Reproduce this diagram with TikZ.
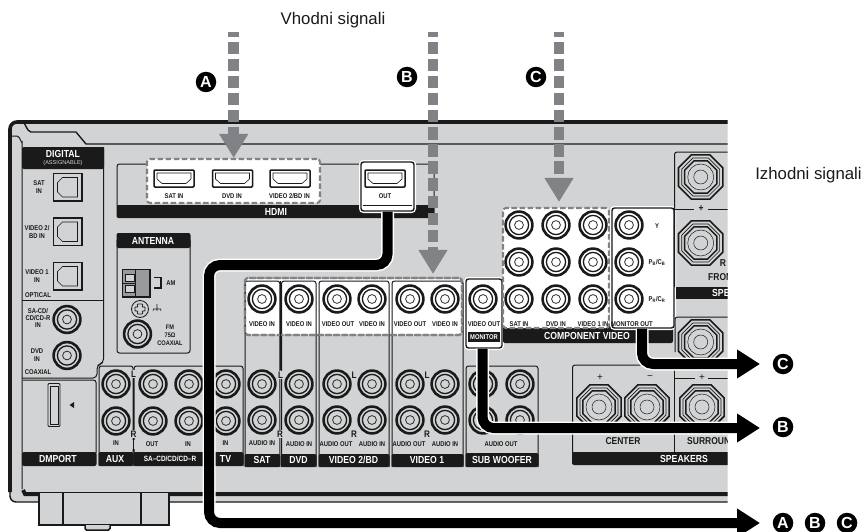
\documentclass[tikz,border=0pt]{standalone}
\usepackage{fontspec}
\setmainfont{Liberation Sans}
\newfontfamily\condf[FakeStretch=0.85]{Liberation Sans}
\newcommand{\cond}{\condf\bfseries}
\usetikzlibrary{arrows.meta}
\definecolor{body}{HTML}{D1D3D4}
\definecolor{sig}{HTML}{808285}
\definecolor{ink}{HTML}{1A1A1A}
\newcounter{lbl}
\tikzset{
  lab/.style={inner sep=0pt,align=center,text=ink,font=\cond\fontsize{6.9}{7.4}\selectfont},
  hdr/.style={inner sep=0pt,text=white,font=\cond\fontsize{10.2}{10.5}\selectfont},
  hdrs/.style={inner sep=0pt,text=white,font=\cond\fontsize{7.6}{8}\selectfont},
  big/.style={inner sep=0pt,text=ink,font=\cond\fontsize{10}{10}\selectfont},
  lr/.style={inner sep=.6pt,fill=body,text=ink,font=\cond\fontsize{9.5}{9.5}\selectfont},
  captxt/.style={inner sep=0pt,text=ink,font=\fontsize{16.8}{18}\selectfont},
  badge/.style={circle,fill=black,text=white,minimum size=20.5pt,inner sep=0pt,font=\bfseries\fontsize{16}{16}\selectfont},
  panelline/.style={draw=ink,line width=1pt,rounded corners=2.5pt},
  insel/.style={draw=sig,fill=white,line width=2.1pt,dash pattern=on 5.5pt off 2.6pt,rounded corners=3pt,inner sep=0pt},
  whitebox/.style={draw=ink,fill=white,line width=1.4pt,rounded corners=2.5pt,inner sep=0pt,preaction={draw=white,line width=4pt}},
  signal/.style={draw=sig,line width=10.5pt,dash pattern=on 12.5pt off 4.6pt,dash phase=7.5pt,
     -{Triangle[length=24pt,width=27.5pt,fill=sig]}},
  halo/.style={draw=white,line width=13pt,rounded corners=11pt},
  wire/.style={draw=black,line width=10pt,rounded corners=11pt,-{Triangle[length=23pt,width=27.5pt]}},
}
% text label with a generated node name
\newcommand{\tx}[3][lab]{\stepcounter{lbl}\node[#1] (t\arabic{lbl}) at (#2) {#3};}
% RCA jack
\newcommand{\rca}[2]{\draw[ink,line width=2.6pt] (#1,#2) circle (13.4pt);
  \draw[ink,line width=1.3pt] (#1,#2) circle (9.6pt);
  \draw[ink,line width=.7pt] (#1,#2) circle (4.4pt);}
% panel with header
\newcommand{\panel}[5]{\draw[panelline] (#1,#5) -- (#1,#3) -- (#2,#3) -- (#2,#5);
  \fill[ink,rounded corners=2pt] (#1-.5,#4) rectangle (#2+.5,#5);}
% HDMI socket
\newcommand{\hdmi}[2]{\begin{scope}[shift={(#1,#2)}]
  \draw[ink,line width=1.5pt,rounded corners=1pt] (0,0) rectangle (40,17);
  \draw[ink,line width=.6pt] (3,3)--(37,3)--(37,9)--(32,13.5)--(8,13.5)--(3,9)--cycle;
  \end{scope}}
% optical socket
\newcommand{\optical}[2]{\begin{scope}[shift={(#1,#2)}]
  \draw[ink,line width=1.9pt] (0,0) rectangle (28.5,27.5);
  \draw[ink,line width=.7pt] (4,9)--(9,4)--(24,4)--(24,23.5)--(9,23.5)--(4,18.5)--cycle;
  \end{scope}}
\newcommand{\octa}[1]{(22.5:#1)--(67.5:#1)--(112.5:#1)--(157.5:#1)--(202.5:#1)--(247.5:#1)--(292.5:#1)--(337.5:#1)--cycle}
% speaker terminal
\newcommand{\spk}[2]{\begin{scope}[shift={(#1,#2)}]
  \draw[ink,line width=1.6pt,fill=body] \octa{24};
  \draw[ink,line width=.7pt] \octa{20.5};
  \draw[ink,line width=1.5pt] \octa{17.5};
  \draw[ink,line width=.5pt] (0,0) circle (13pt);
  \draw[ink,line width=.5pt] (0,0) circle (7pt);
  \end{scope}}
\begin{document}
\begin{tikzpicture}[x=1pt,y=-1pt]
\useasboundingbox (0,0) rectangle (864,532);
\begin{scope}
\clip (0,0) rectangle (727.5,532);
% chassis
\fill[body,rounded corners=8pt] (9,121) -- (800,121) -- (800,502) -- (9,502) -- cycle;
\draw[ink,line width=3.6pt,rounded corners=7pt] (800,122) -- (10,122) -- (10,492);
\draw[ink,line width=1.4pt,rounded corners=6pt] (10,486) -- (10,502) -- (800,502);
\draw[ink,line width=1.4pt] (800,144) -- (86,144) -- (76,132) -- (31,132) to[out=180,in=90] (24,124);
\draw[ink,line width=1pt] (12,136) -- (17,136) to[out=0,in=-90] (22,142) -- (22,489);
\draw[ink,line width=4pt] (23,490) -- (25,494) -- (800,494);
% feet
\draw[ink,line width=2pt,fill=body] (39,493) -- (39,525) -- (169,525) -- (169,493);
\draw[ink,line width=2pt] (62.5,493) -- (62.5,525) (141,493) -- (141,525);
\draw[ink,line width=1.5pt,fill=body,rounded corners=1.5pt] (85,525) -- (85,530) -- (110,530) -- (110,525);
% digital panel
\draw[ink,line width=1pt,rounded corners=4pt] (22,378) -- (97,378) -- (97,365) -- (103.5,363) -- (103.5,147);
\fill[ink,rounded corners=2pt] (22,147) rectangle (104,169);
\draw[ink,line width=.8pt] (22,300.5) -- (103.5,300.5);
\tx[hdr]{63,154}{DIGITAL}
\tx[inner sep=0pt,text=body,font=\fontsize{5.6}{6}\selectfont]{63,163.5}{(ASSIGNABLE)}
\optical{53.5}{173.5}\optical{53.5}{218}\optical{53.5}{262.5}
\tx{39,187}{SAT\\IN}
\tx{37,232}{VIDEO 2/\\BD IN}
\tx{37,276}{VIDEO 1\\IN}
\tx{38,295}{OPTICAL}
\tx{38,318}{SA-CD/\\CD/CD-R\\IN}
\tx{37,355}{DVD\\IN}
\tx{38,372}{COAXIAL}
\rca{67}{319.5}\rca{67}{355.5}
% DMPORT
\draw[ink,line width=1pt,rounded corners=2.5pt] (23,380) -- (96,380) -- (96,453);
\fill[ink,rounded corners=2pt] (22,452) rectangle (96.5,466);
\tx[hdr]{58,459}{DMPORT}
\draw[ink,line width=.9pt,rounded corners=1pt] (48,383.5) rectangle (60,426.5);
\draw[ink,line width=.5pt] (50,386) rectangle (58,424);
\fill[ink] (69.5,405) -- (74,402) -- (74,408) -- cycle;
% AUX + SA-CD + TV
\panel{99}{133}{366}{452}{466}
\panel{134}{243}{366}{452}{466}
\fill[body] (130,440) rectangle (135,449);
\draw[ink,line width=1pt] (133.5,378) -- (133.5,452);
\tx[lr]{133.5,374}{L}
\tx[lr]{133.5,434}{R}
\rca{116}{384}\rca{116}{421}\rca{153}{384}\rca{153}{421}
\rca{189}{384}\rca{189}{421}\rca{226}{384}\rca{226}{421}
\tx{116,443}{IN}\tx{152,444}{OUT}\tx{188,444}{IN}\tx{225.5,443}{IN}
\tx[hdr]{115,459}{AUX}
\tx[hdrs]{170,459}{SA–CD/CD/CD–R}
\tx[hdr]{225.5,459}{TV}
% HDMI panel
\draw[panelline] (117,206) -- (117,164) -- (434,164) -- (434,206);
\fill[ink,rounded corners=2pt] (116.5,205) rectangle (434.5,218);
\node[insel,minimum width=173pt,minimum height=44pt] (hdmiIn) at (233.5,181) {};
\hdmi{154}{170}\hdmi{212.5}{170}\hdmi{270}{170}
\tx{174,196}{SAT IN}\tx{232,196}{DVD IN}\tx{289.5,196}{VIDEO 2/BD IN}
\tx[hdr]{276,212}{HDMI}
\node[whitebox,minimum width=53pt,minimum height=49pt] (hdmiOut) at (387.5,186.5) {};
\hdmi{365}{170}
\tx{385,196}{OUT}
\draw[ink,line width=1pt] (363,205.5) -- (412,205.5);
% antenna
\draw[panelline] (117,240) -- (117,353) -- (190,353) -- (190,240);
\fill[ink,rounded corners=2pt] (116.5,233) rectangle (190.5,248);
\tx[hdr]{153,240.5}{ANTENNA}
\draw[ink,line width=1.5pt,fill=sig!70!body] (122.5,269.5) rectangle (150,297);
\draw[ink,line width=1pt] (135.5,269.5) -- (135.5,297) (123,283) -- (135.5,283);
\draw[ink,line width=.7pt,fill=body] (125,274) rectangle (134,281) (125,285.5) rectangle (134,292.5);
\draw[ink,line width=1.1pt] (154,277.5) -- (161,277.5) -- (161,288) -- (154,288);
\tx{171,283}{AM}
\draw[ink,line width=.8pt] (140,309) circle (8.5pt);
\draw[ink,line width=.7pt,rounded corners=1pt] (137,304) -- (143,304) -- (142,307.5) -- (145,306.5) -- (145,311.5) -- (142,310.5) -- (143,314) -- (137,314) -- (138,310.5) -- (135,311.5) -- (135,306.5) -- (138,307.5) -- cycle;
\draw[ink,line width=.6pt] (157,304) -- (157,309) (153,309) -- (161,309) (153.5,309) -- (153,311) (157,309) -- (157,311) (160.5,309) -- (161,311);
\rca{137.5}{334}
\tx[lab,font=\cond\fontsize{6.6}{8.1}\selectfont]{170,335}{FM\\75Ω\\COAXIAL}
% input jacks group
\node[insel,minimum width=217pt,minimum height=57pt] (videoIn) at (353.5,306.5) {};
\panel{245}{279.8}{281}{454}{467}
\panel{281.5}{316}{281}{454}{467}
\panel{319}{389}{281}{454}{467}
\panel{392}{463}{281}{454}{467}
\draw[sig,line width=2.1pt,dash pattern=on 5.5pt off 2.6pt,rounded corners=3pt] (245,335) -- (245,278) -- (462,278) -- (462,335) -- cycle;
\draw[ink,line width=1.6pt] (280.6,281) -- (280.6,370);
\foreach \x in {262,299,337,372,410,445}{\rca{\x}{299}\rca{\x}{384}\rca{\x}{420}}
\tx{262,324}{VIDEO IN}\tx{299,324}{VIDEO IN}\tx{338,324}{VIDEO OUT}\tx{372,324}{VIDEO IN}
\tx{410,324}{VIDEO OUT}\tx{445,324}{VIDEO IN}
\tx{262,443.5}{AUDIO IN}\tx{299,444}{AUDIO IN}\tx{336,444}{AUDIO OUT}\tx{372,444}{AUDIO IN}
\tx{409,444}{AUDIO OUT}\tx{445,444}{AUDIO IN}
\tx[lr]{280.5,375}{L}\tx[lr]{280,434}{R}
\tx[lr]{354,375}{L}\tx[lr]{354,434}{R}
\tx[lr]{427,375}{L}\tx[lr]{427,434}{R}
\tx[hdr]{262,459.5}{SAT}\tx[hdr]{298.5,459.5}{DVD}\tx[hdr]{353.5,459.5}{VIDEO 2/BD}\tx[hdr]{427,459.5}{VIDEO 1}
% sub woofer
\panel{466}{538}{366}{453}{467}
\rca{483}{384}\rca{520}{384}\rca{483}{420}\rca{520}{420}
\tx{501,444}{AUDIO OUT}
\tx[hdr]{502,459.5}{SUB WOOFER}
% monitor
\node[whitebox,minimum width=36pt,minimum height=69pt] (monitor) at (484,313.5) {};
\rca{483}{299}
\tx{484,324}{VIDEO OUT}
\fill[ink] (468,332) rectangle (500,342);
\tx[lab,text=white]{484,337}{MONITOR}
% component video
\fill[ink,rounded corners=2pt] (503,326) rectangle (673,343);
\tx[hdr]{587,335.5}{COMPONENT VIDEO}
\node[insel,minimum width=106pt,minimum height=120pt] (compIn) at (556,268) {};
\node[whitebox,minimum width=62pt,minimum height=120pt] (monOut) at (643,268) {};
\foreach \x in {519,556,593,629}{\rca{\x}{225}\rca{\x}{262}\rca{\x}{299}}
\tx{519,324}{SAT IN}\tx{556,324}{DVD IN}\tx{593,324}{VIDEO 1 IN}\tx{632,324}{MONITOR OUT}
\tx{657,226}{Y}
\tx{657,262}{P\textsubscript{B}/C\textsubscript{B}}
\tx{657,299}{P\textsubscript{R}/C\textsubscript{R}}
% speakers, right
\draw[panelline] (800,152) -- (674.5,152) -- (674.5,287);
\fill[ink] (675.5,287) rectangle (800,299);
\tx[hdr,anchor=west]{712,293}{SPEAKERS}
\spk{700.7}{177}\spk{700.7}{243}
\draw[ink,line width=.9pt] (675,209) -- (694,209) (708,209) -- (800,209);
\tx[big,font=\cond\fontsize{10}{10}\selectfont]{701,209}{+}
\tx[big,font=\cond\fontsize{10}{10}\selectfont]{723,263.5}{R}
\tx[big,anchor=west]{708,277}{FRONT}
\draw[panelline] (800,317) -- (675,317) -- (675,352);
\spk{700.7}{342}
% speakers, lower
\draw[panelline] (800,365) -- (572.5,365) -- (572.5,453);
\fill[ink,rounded corners=2pt] (572,452) rectangle (800,465);
\draw[ink,line width=.9pt] (674.5,366) -- (674.5,452) (675,378) -- (695,378) (708,378) -- (800,378);
\spk{599}{407}\spk{647}{407}\spk{702}{407}
\tx[big,font=\fontsize{10}{10}\selectfont]{600,378}{+}
\tx[big,font=\fontsize{10}{10}\selectfont]{650,378}{−}
\tx[big,font=\fontsize{10}{10}\selectfont]{702,378}{+}
\tx[big]{623,441}{CENTER}
\tx[big,anchor=west]{687,441}{SURROUND}
\tx[hdr]{684,458.5}{SPEAKERS}
\end{scope}
% output connectors
\coordinate (endA) at (760,523);
\coordinate (endB) at (760,428);
\coordinate (endC) at (760,364);
\draw[halo] ([xshift=-1pt]monOut.south) -- (642,364) -- (730,364);
\draw[wire] ([xshift=-1pt]monOut.south) -- (642,364) -- (endC);
\draw[halo] ([xshift=-1.5pt]monitor.south) -- (482.5,428) -- (730,428);
\draw[wire] ([xshift=-1.5pt]monitor.south) -- (482.5,428) -- (endB);
\draw[halo] (hdmiOut.south) -- (387.5,265) -- (209,265) -- (209,523) -- (730,523);
\draw[wire] (hdmiOut.south) -- (387.5,265) -- (209,265) -- (209,523) -- (endA);
% input signals
\coordinate (topA) at (233.7,32);
\coordinate (topB) at (433,32);
\coordinate (topC) at (559,32);
\draw[signal] (topA) -- (topA |- hdmiIn.north);
\draw[signal] (topB) -- ([yshift=3pt]topB |- videoIn.north);
\draw[signal] (topC) -- ([yshift=5pt]topC |- compIn.north);
% letters
\node[badge] (b1) at (206,82) {A};
\node[badge] (b2) at (407,77) {B};
\node[badge] (b3) at (536,77) {C};
\node[badge] (b4) at (783,364) {C};
\node[badge] (b5) at (783,427) {B};
\node[badge] (b6) at (783,523) {A};
\node[badge] (b7) at (815,523) {B};
\node[badge] (b8) at (847,523) {C};
% captions
\tx[captxt]{333,20}{Vhodni signali}
\tx[captxt]{808.5,175}{Izhodni signali}
\end{tikzpicture}
\end{document}
